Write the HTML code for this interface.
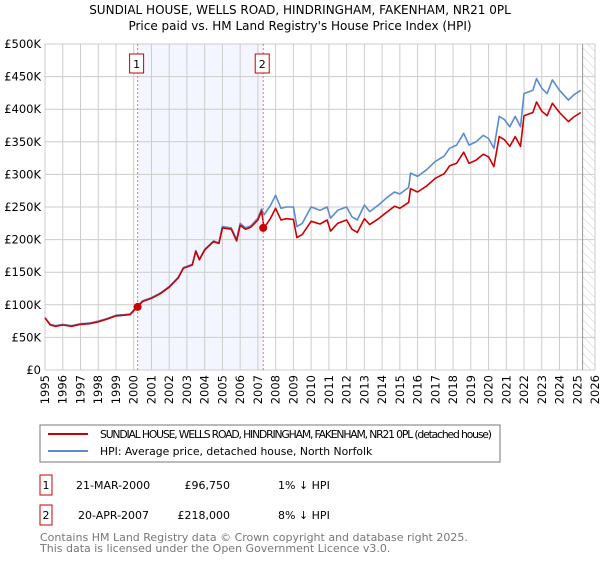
<!DOCTYPE html>
<html><head><meta charset="utf-8"><style>
body{margin:0;background:#fff;font-family:"Liberation Sans","DejaVu Sans",sans-serif;}
svg text{font-family:"DejaVu Sans","Liberation Sans",sans-serif;}
</style></head><body>
<svg id="c" width="600" height="560" xmlns="http://www.w3.org/2000/svg">
<defs><pattern id="hatch" width="6" height="6" patternUnits="userSpaceOnUse" patternTransform="rotate(-45)"><line x1="0" y1="0" x2="0" y2="6" stroke="#ccc" stroke-width="1"/></pattern></defs>
<text x="300" y="14" text-anchor="middle" font-size="12">SUNDIAL HOUSE, WELLS ROAD, HINDRINGHAM, FAKENHAM, NR21 0PL</text>
<text x="300" y="30" text-anchor="middle" font-size="12">Price paid vs. HM Land Registry's House Price Index (HPI)</text>
<g id="grid"></g><g id="axes"></g><g id="series"></g><g id="marks"></g>
<rect x="40" y="425" width="460" height="37" fill="#fff" stroke="#777"/>
<line x1="48" y1="434" x2="88" y2="434" stroke="#cc0000" stroke-width="2"/>
<text x="100" y="438" font-size="10.8" textLength="392">SUNDIAL HOUSE, WELLS ROAD, HINDRINGHAM, FAKENHAM, NR21 0PL (detached house)</text>
<line x1="48" y1="451" x2="88" y2="451" stroke="#5b8bd0" stroke-width="2"/>
<text x="100" y="455" font-size="10.8">HPI: Average price, detached house, North Norfolk</text>
<g font-size="11">
<rect x="40" y="475" width="12" height="20" fill="#fff" stroke="#cc0000"/><text x="46" y="489" text-anchor="middle">1</text>
<text x="76" y="489">21-MAR-2000</text><text x="230" y="489" text-anchor="end">£96,750</text><text x="278" y="489">1% ↓ HPI</text>
<rect x="40" y="505" width="12" height="20" fill="#fff" stroke="#cc0000"/><text x="46" y="519" text-anchor="middle">2</text>
<text x="78" y="519">20-APR-2007</text><text x="230" y="519" text-anchor="end">£218,000</text><text x="278" y="519">8% ↓ HPI</text>
</g>
<text x="40" y="541" font-size="11" fill="#777">Contains HM Land Registry data © Crown copyright and database right 2025.</text>
<text x="40" y="552" font-size="11" fill="#777">This data is licensed under the Open Government Licence v3.0.</text>
</svg>
<script>
const years=[1995,1995.3,1995.6,1996,1996.5,1997,1997.5,1998,1998.5,1999,1999.5,1999.8,2000.2,2000.5,2001,2001.5,2002,2002.5,2002.8,2003.3,2003.5,2003.7,2004,2004.5,2004.8,2005,2005.5,2005.8,2006,2006.3,2006.6,2007,2007.2,2007.35,2007.7,2008,2008.3,2008.6,2009,2009.2,2009.5,2010,2010.5,2010.9,2011.1,2011.5,2012,2012.3,2012.6,2013,2013.3,2013.8,2014.3,2014.7,2015,2015.5,2015.6,2016,2016.5,2017,2017.5,2017.8,2018.2,2018.6,2018.9,2019.3,2019.7,2020,2020.3,2020.6,2020.9,2021.2,2021.5,2021.8,2022,2022.5,2022.7,2023,2023.3,2023.6,2024,2024.5,2024.8,2025.2];
const hpi=[80,70,68,70,68,71,72,75,79,84,85,86,98,106,111,118,128,142,157,162,183,170,185,198,195,220,218,200,225,218,221,233,247,238,252,268,248,250,250,220,225,250,245,250,233,245,250,235,230,253,243,253,265,273,270,280,302,297,307,320,328,340,345,363,345,350,360,355,340,389,384,373,389,373,424,429,447,432,424,445,429,414,422,429];
const price=[80,69,67,69,67,70,71,74,78,83,84,85,97,105,110,117,127,141,156,161,182,169,184,197,194,218,216,198,222,216,219,230,244,218,232,248,230,232,231,203,208,228,224,230,213,225,230,216,211,232,223,232,243,251,248,257,278,273,282,294,301,313,317,334,317,322,331,327,312,358,353,343,358,343,390,395,411,397,390,409,395,381,388,395];
const saleYears=[2000.22,2007.3];
const saleValues=[96.75,218];
const saleLabels=["1","2"];
const yTicks=[0,50,100,150,200,250,300,350,400,450,500];
const yTickLabels=["£0","£50K","£100K","£150K","£200K","£250K","£300K","£350K","£400K","£450K","£500K"];
const xTicks=[1995,1996,1997,1998,1999,2000,2001,2002,2003,2004,2005,2006,2007,2008,2009,2010,2011,2012,2013,2014,2015,2016,2017,2018,2019,2020,2021,2022,2023,2024,2025,2026];
const dataEnd=2025.3;
const NS="http://www.w3.org/2000/svg";
const L=45,R=595,T=44,B=370;
function X(y){return L+(y-1995)/(2026-1995)*(R-L);}
function Y(v){return B-v/500*(B-T);}
function mk(tag,attrs,parent){const e=document.createElementNS(NS,tag);for(const k in attrs)e.setAttribute(k,attrs[k]);parent.appendChild(e);return e;}
const grid=document.getElementById('grid'),axes=document.getElementById('axes'),ser=document.getElementById('series'),marks=document.getElementById('marks');
let band=mk('rect',{x:X(saleYears[0]),y:T,width:X(saleYears[1])-X(saleYears[0]),height:B-T,fill:'#f3f6fe'},grid);


let hat=mk('rect',{x:X(dataEnd),y:T,width:R-X(dataEnd),height:B-T,fill:'url(#hatch)'},grid);


yTicks.forEach((v,i)=>{
  let g=mk('line',{x1:L,x2:R,y1:Y(v),y2:Y(v),stroke:'#ccc'},grid);
  
  
  let t=mk('text',{x:L-4,y:Y(v)+4,'text-anchor':'end','font-size':'11.5'},axes);
  t.textContent=yTickLabels[i];
  
  
});
xTicks.forEach(yr=>{
  let g=mk('line',{x1:X(yr),x2:X(yr),y1:T,y2:B,stroke:'#ccc'},grid);
  
  
  let t=mk('text',{x:0,y:0,'text-anchor':'end','font-size':'11.5',transform:`translate(${X(yr)+4},${B+5}) rotate(-90)`},axes);
  t.textContent=yr;
  
  
});
let de=mk('line',{x1:X(dataEnd),x2:X(dataEnd),y1:T,y2:B,stroke:'#999'},grid);


function path(vals,color,name){
  let d=vals.map((v,i)=>(i?'L':'M')+X(years[i]).toFixed(1)+','+Y(v).toFixed(1)).join('');
  let p=mk('path',{d:d,fill:'none',stroke:color,'stroke-width':'1.6','stroke-linejoin':'round'},ser);
  
  
}
path(hpi,'#5b8bd0','hpi-line');
path(price,'#cc0000','price-line');
saleYears.forEach((yr,i)=>{
  let l=mk('line',{x1:X(yr),x2:X(yr),y1:T,y2:B,stroke:'#f07070','stroke-dasharray':'2,2'},marks);
  
  
  let r=mk('rect',{x:X(yr)-8,y:54,width:14,height:19,fill:'#fff',stroke:'#cc0000'},marks);
  
  
  let t=mk('text',{x:X(yr)-1,y:68,'text-anchor':'middle','font-size':'11'},marks);
  t.textContent=saleLabels[i];
  
  
  let c=mk('circle',{cx:X(yr),cy:Y(saleValues[i]),r:4,fill:'#cc0000'},marks);
  
  
});
</script>
</body></html>
